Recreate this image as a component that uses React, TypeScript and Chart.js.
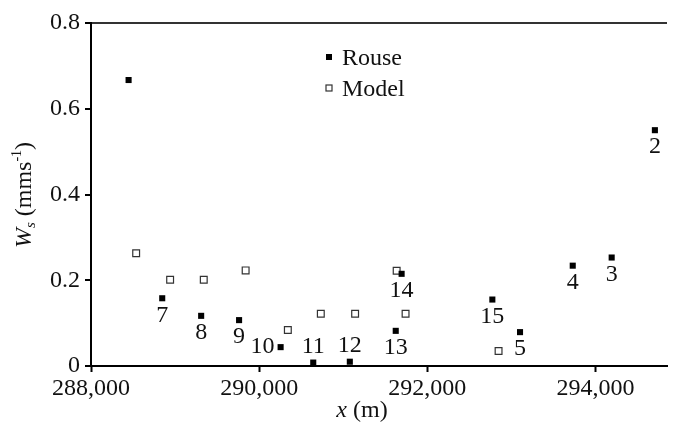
import React, { useEffect, useRef } from "react";
import { Chart, registerables } from "chart.js";

Chart.register(...registerables);

const rouseX = [288447, 288847, 289310, 289761, 290255, 290643, 291078, 291624, 291694, 292773, 293102, 293729, 294192, 294706];
const rouseY = [0.667, 0.158, 0.117, 0.107, 0.044, 0.008, 0.010, 0.082, 0.215, 0.155, 0.079, 0.234, 0.253, 0.550];
const rouseLabels = ["", "7", "8", "9", "10", "11", "12", "13", "14", "15", "5", "4", "3", "2"];
const labelPlacement = ["", "below", "below", "below", "left", "above", "above", "below", "below", "below", "below", "below", "below", "below"];

const modelX = [288537, 288941, 289341, 289839, 290341, 290733, 291141, 291635, 291741, 292847];
const modelY = [0.263, 0.201, 0.201, 0.223, 0.084, 0.122, 0.122, 0.222, 0.122, 0.035];

const xTicks = [288000, 290000, 292000, 294000];
const yTicks = [0, 0.2, 0.4, 0.6, 0.8];
const seriesNames = ["Rouse", "Model"];

const FONT = '"Liberation Serif", "Times New Roman", serif';

const overlayPlugin = {
  id: "overlay",
  afterDatasetsDraw(chart: any) {
    const ctx = chart.ctx as CanvasRenderingContext2D;
    const meta = chart.getDatasetMeta(0);
    ctx.save();
    ctx.fillStyle = "#111";
    ctx.font = `24px ${FONT}`;
    ctx.textBaseline = "middle";
    meta.data.forEach((pt: any, i: number) => {
      const lab = rouseLabels[i];
      if (!lab) return;
      const p = labelPlacement[i];
      let x = pt.x, y = pt.y;
      ctx.textAlign = "center";
      if (p === "below") y += 17;
      else if (p === "above") y -= 16;
      else if (p === "left") { x -= 6; ctx.textAlign = "right"; }
      ctx.fillText(lab, x, y);
    });

    // legend
    const lx = 329;
    const rows = [57, 88];
    ctx.textAlign = "left";
    ctx.textBaseline = "alphabetic";
    rows.forEach((ry, i) => {
      if (i === 0) {
        ctx.fillStyle = "#000";
        ctx.fillRect(lx - 3, ry - 3, 6, 6);
      } else {
        ctx.fillStyle = "#fff";
        ctx.fillRect(lx - 3, ry - 3, 6, 6);
        ctx.strokeStyle = "#333";
        ctx.lineWidth = 1.2;
        ctx.strokeRect(lx - 3, ry - 3, 6, 6);
      }
      ctx.fillStyle = "#111";
      ctx.font = `24px ${FONT}`;
      ctx.fillText(seriesNames[i], 342, ry + 8);
    });

    // x title: "x (m)"
    const area = chart.chartArea;
    const xc = (area.left + area.right) / 2 - 20;
    ctx.font = `italic 24px ${FONT}`;
    const w1 = ctx.measureText("x").width;
    ctx.font = `24px ${FONT}`;
    const w2 = ctx.measureText(" (m)").width;
    let sx = 362 - (w1 + w2) / 2;
    ctx.font = `italic 24px ${FONT}`;
    ctx.fillText("x", sx, 417);
    ctx.font = `24px ${FONT}`;
    ctx.fillText(" (m)", sx + w1, 417);

    // y title: "Ws (mms-1)" rotated
    ctx.save();
    ctx.translate(31, 195);
    ctx.rotate(-Math.PI / 2);
    const segs = [
      { t: "W", f: `italic 24px ${FONT}`, dy: 0 },
      { t: "s", f: `italic 15px ${FONT}`, dy: 4 },
      { t: " (mms", f: `24px ${FONT}`, dy: 0 },
      { t: "-1", f: `14px ${FONT}`, dy: -10 },
      { t: ")", f: `24px ${FONT}`, dy: 0 },
    ];
    let total = 0;
    segs.forEach((s) => { ctx.font = s.f; total += ctx.measureText(s.t).width; });
    let cx = -total / 2;
    segs.forEach((s) => {
      ctx.font = s.f;
      ctx.fillText(s.t, cx, s.dy);
      cx += ctx.measureText(s.t).width;
    });
    ctx.restore();
    ctx.restore();
  },
};

export default function App() {
  const ref = useRef<HTMLCanvasElement | null>(null);
  useEffect(() => {
    document.body.style.margin = "0";
    if (!ref.current) return;
    const chart = new Chart(ref.current, {
      type: "scatter",
      data: {
        datasets: [
          {
            label: seriesNames[0],
            data: rouseX.map((x, i) => ({ x, y: rouseY[i] })),
            pointStyle: "rect",
            pointRadius: 4.3,
            backgroundColor: "#000",
            borderColor: "#000",
            borderWidth: 0,
          },
          {
            label: seriesNames[1],
            data: modelX.map((x, i) => ({ x, y: modelY[i] })),
            pointStyle: "rect",
            pointRadius: 4.8,
            backgroundColor: "#fff",
            borderColor: "#333",
            borderWidth: 1.2,
          },
        ],
      },
      options: {
        responsive: false,
        animation: false,
        layout: { padding: { top: 23, left: 0, right: 0, bottom: 0 } },
        plugins: { legend: { display: false }, tooltip: { enabled: false } },
        scales: {
          x: {
            type: "linear",
            min: 288000,
            max: 294850,
            afterBuildTicks: (scale: any) => {
              scale.ticks = xTicks.map((v) => ({ value: v }));
            },
            afterFit: (scale: any) => { scale.height = 62; },
            grid: { drawOnChartArea: false, drawTicks: true, tickLength: 6, tickColor: "#000", tickWidth: 2 },
            border: { display: true, color: "#000", width: 2 },
            ticks: {
              color: "#111",
              font: { family: FONT, size: 24 },
              padding: 2,
              maxRotation: 0,
              callback: (v: any) => Number(v).toLocaleString("en-US"),
            },
          },
          y: {
            type: "linear",
            min: 0,
            max: 0.8,
            afterBuildTicks: (scale: any) => {
              scale.ticks = yTicks.map((v) => ({ value: v }));
            },
            afterFit: (scale: any) => { scale.width = 91; },
            grid: {
              drawOnChartArea: true,
              tickLength: 6,
              tickColor: "#000",
              tickWidth: 2,
              lineWidth: 2,
              color: (c: any) => (c.tick && Math.abs(c.tick.value - 0.8) < 1e-9 ? "#333" : "rgba(0,0,0,0)"),
            },
            border: { display: true, color: "#000", width: 2 },
            ticks: {
              color: "#111",
              font: { family: FONT, size: 24 },
              padding: 5,
              callback: (v: any) => (Number(v) === 0 ? "0" : Number(v).toFixed(1)),
            },
          },
        },
      },
      plugins: [overlayPlugin],
    });
    return () => chart.destroy();
  }, []);
  return (
    <div style={{ width: 673, height: 428, background: "#fff" }}>
      <canvas ref={ref} width={673} height={428} />
    </div>
  );
}
